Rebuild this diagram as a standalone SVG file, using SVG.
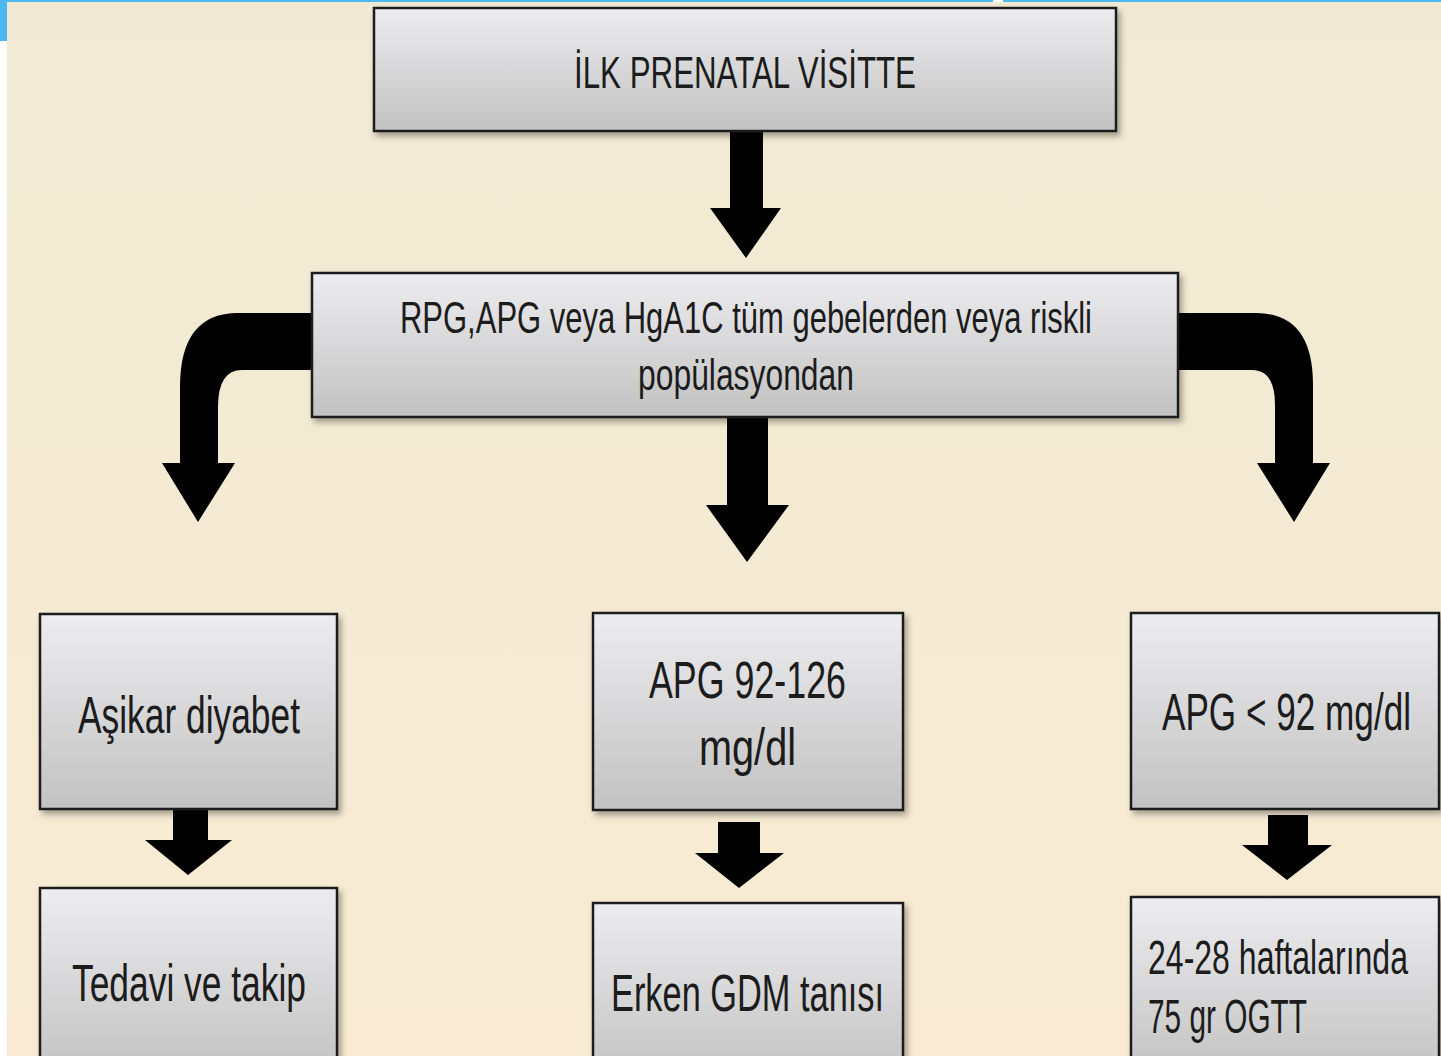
<svg xmlns="http://www.w3.org/2000/svg" width="1441" height="1056" viewBox="0 0 1441 1056">
<defs>
<linearGradient id="bg" x1="0" y1="0" x2="0" y2="1">
<stop offset="0" stop-color="#F0EAD4"/>
<stop offset="1" stop-color="#F9EBD3"/>
</linearGradient>
<linearGradient id="box" x1="0" y1="0" x2="0" y2="1">
<stop offset="0" stop-color="#EDEDF0"/>
<stop offset="1" stop-color="#C2C2C2"/>
</linearGradient>
<filter id="sh" x="-10%" y="-10%" width="120%" height="130%">
<feDropShadow dx="3" dy="4" stdDeviation="3" flood-color="#000" flood-opacity="0.35"/>
</filter>
<style>
.bx{fill:url(#box);stroke:#1e1e1e;stroke-width:2.5;filter:url(#sh)}
.t{font-family:"Liberation Sans Narrow","Liberation Sans",Arial,sans-serif;fill:#1c1c1c}
.ar{fill:#000}
</style>
</defs>
<rect x="0" y="0" width="1441" height="1056" fill="url(#bg)"/>
<rect x="0" y="41" width="7" height="1015" fill="#FFFFFF"/>
<rect x="0" y="0" width="1441" height="2" fill="#4DB8EE"/>
<rect x="993" y="0" width="10" height="2" fill="#FFFFFF"/>
<rect x="0" y="0" width="7" height="41" fill="#4DB8EE"/>

<g id="connectors">
<path class="ar" d="M730,131 H763 V208 H781 L746,258 L710,208 H730 Z"/>
<path class="ar" d="M727,417 H768 V505 H789 L747,562 L706,505 H727 Z"/>
<path class="ar" d="M312,313 H238 Q180,313 180,387 V463 H162 L198,522 L235,463 H218 V407 Q218,370 242,370 H312 Z"/>
<path class="ar" d="M1178,313 H1256 Q1313,313 1313,385 V463 H1330 L1294,522 L1257,463 H1275 V405 Q1275,370 1252,370 H1178 Z"/>
<path class="ar" d="M173,809 H208 V840 H232 L188,875 L145,840 H173 Z"/>
<path class="ar" d="M718,822 H760 V853 H784 L739,888 L695,853 H718 Z"/>
<path class="ar" d="M1268,815 H1308 V845 H1332 L1287,880 L1242,845 H1268 Z"/>
</g>

<g id="n1">
<rect class="bx" x="374" y="8" width="742" height="123"/>
<text class="t" x="574" y="88" font-size="44" textLength="342" lengthAdjust="spacingAndGlyphs">İLK PRENATAL VİSİTTE</text>
</g>
<g id="n2">
<rect class="bx" x="312" y="273" width="866" height="144"/>
<text class="t" x="400" y="333" font-size="44" textLength="692" lengthAdjust="spacingAndGlyphs">RPG,APG veya HgA1C  tüm gebelerden veya riskli</text>
<text class="t" x="638" y="390" font-size="44" textLength="216" lengthAdjust="spacingAndGlyphs">popülasyondan</text>
</g>
<g id="n3">
<rect class="bx" x="40" y="614" width="297" height="195"/>
<text class="t" x="78" y="733" font-size="52" textLength="222" lengthAdjust="spacingAndGlyphs">Aşikar diyabet</text>
</g>
<g id="n4">
<rect class="bx" x="593" y="613" width="310" height="197"/>
<text class="t" x="649" y="698" font-size="52" textLength="197" lengthAdjust="spacingAndGlyphs">APG  92-126</text>
<text class="t" x="699" y="765" font-size="52" textLength="97" lengthAdjust="spacingAndGlyphs">mg/dl</text>
</g>
<g id="n5">
<rect class="bx" x="1131" y="613" width="308" height="196"/>
<text class="t" x="1162" y="730" font-size="52" textLength="249" lengthAdjust="spacingAndGlyphs">APG &lt; 92 mg/dl</text>
</g>
<g id="n6">
<rect class="bx" x="40" y="888" width="297" height="190"/>
<text class="t" x="72" y="1001" font-size="52" textLength="234" lengthAdjust="spacingAndGlyphs">Tedavi ve takip</text>
</g>
<g id="n7">
<rect class="bx" x="593" y="903" width="310" height="175"/>
<text class="t" x="611" y="1011" font-size="52" textLength="273" lengthAdjust="spacingAndGlyphs">Erken GDM tanısı</text>
</g>
<g id="n8">
<rect class="bx" x="1131" y="897" width="308" height="181"/>
<text class="t" x="1148" y="974" font-size="48" textLength="260" lengthAdjust="spacingAndGlyphs">24-28 haftalarında</text>
<text class="t" x="1148" y="1033" font-size="48" textLength="159" lengthAdjust="spacingAndGlyphs">75 gr OGTT</text>
</g>
</svg>
